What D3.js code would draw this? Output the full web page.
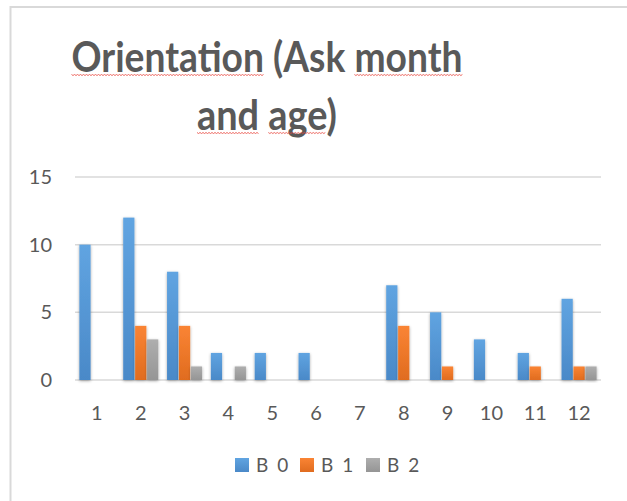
<!DOCTYPE html>
<html>
<head>
<meta charset="utf-8">
<script src="https://cdn.jsdelivr.net/npm/d3@7"></script>
<style>
  body { margin: 0; background: #fff; }
  text { font-family: Lato, "Open Sans", sans-serif; fill: #595959; }
</style>
</head>
<body>
<div id="chart"></div>
<script>
var months = ["1","2","3","4","5","6","7","8","9","10","11","12"];
var seriesNames = ["B 0", "B 1", "B 2"];
var b0 = [10, 12, 8, 2, 2, 2, 0, 7, 5, 3, 2, 6];
var b1 = [0, 4, 4, 0, 0, 0, 0, 4, 1, 0, 1, 1];
var b2 = [0, 3, 1, 1, 0, 0, 0, 0, 0, 0, 0, 1];
var yTicks = [0, 5, 10, 15];
var colors = ["#5b9bd5", "#ed7d31", "#a5a5a5"];
var darker = ["#4a89c8", "#e06c1f", "#959595"];

var W = 627, H = 501;
var margin = {top: 177, right: 26, bottom: 121, left: 75};
var width = W - margin.left - margin.right;
var height = H - margin.top - margin.bottom;

var svg = d3.select("#chart").append("svg")
  .attr("width", W).attr("height", H);

var defs = svg.append("defs");
colors.forEach(function(c, i) {
  var gr = defs.append("linearGradient").attr("id", "grad" + i)
    .attr("x1", 0).attr("y1", 0).attr("x2", 0).attr("y2", 1);
  gr.append("stop").attr("offset", "0%").attr("stop-color", d3.color(c).brighter(0.15));
  gr.append("stop").attr("offset", "100%").attr("stop-color", darker[i]);
});
var f = defs.append("filter").attr("id", "shadow")
  .attr("x", "-50%").attr("y", "-10%").attr("width", "200%").attr("height", "130%");
f.append("feDropShadow").attr("dx", 0).attr("dy", 1).attr("stdDeviation", 1.6)
  .attr("flood-color", "#000").attr("flood-opacity", 0.35);

// chart border
svg.append("rect")
  .attr("x", 10.5).attr("y", 7).attr("width", 700).attr("height", 600)
  .attr("fill", "none").attr("stroke", "#d9d9d9").attr("stroke-width", 2);

// title, squeezed to Calibri-like width, with spell-check squiggles
var titleLines = [
  {text: "Orientation (Ask month", y: 72, w: 391, marks: [[0, 11], [17, 22]]},
  {text: "and age)", y: 130, w: 140, marks: [[0, 3], [4, 7]]}
];
titleLines.forEach(function(l) {
  var t = svg.append("text")
    .attr("x", 267).attr("y", l.y)
    .attr("text-anchor", "middle")
    .style("font-size", "42px").style("font-weight", "bold")
    .text(l.text);
  var node = t.node();
  var full = node.getComputedTextLength();
  var k = l.w / full;
  var sub = [];
  l.marks.forEach(function(m) {
    sub.push([m[0] > 0 ? node.getSubStringLength(0, m[0]) : 0, node.getSubStringLength(0, m[1])]);
  });
  t.attr("textLength", l.w).attr("lengthAdjust", "spacingAndGlyphs");
  var xs = 267 - l.w / 2;
  sub.forEach(function(s) {
    var sx = xs + s[0] * k, ex = xs + s[1] * k;
    var pts = [];
    for (var x = sx, j = 0; x <= ex; x += 1.5, j++) {
      pts.push([x, l.y + 2.5 + (j % 2 ? 1 : 0)]);
    }
    svg.append("path")
      .attr("d", d3.line()(pts))
      .attr("fill", "none").attr("stroke", "#e8453c").attr("stroke-width", 0.8);
  });
});

var g = svg.append("g")
  .attr("transform", "translate(" + margin.left + "," + margin.top + ")");

var x0 = d3.scaleBand().domain(months).range([0, width]).paddingInner(0.2).paddingOuter(0.1);
var x1 = d3.scaleBand().domain(seriesNames).range([0, x0.bandwidth()]).paddingInner(0.06);
var y = d3.scaleLinear().domain([0, 15]).range([height, 0]);

// gridlines
g.selectAll(".grid").data(yTicks).enter().append("line")
  .attr("x1", 0).attr("x2", width)
  .attr("y1", function(d) { return y(d); }).attr("y2", function(d) { return y(d); })
  .attr("stroke", "#d9d9d9").attr("stroke-width", 1.5);

var yAxis = d3.axisLeft(y).tickValues(yTicks).tickSize(0).tickPadding(23);
g.append("g").call(yAxis)
  .call(function(s) { s.select(".domain").remove(); })
  .selectAll("text").style("font-size", "20px").attr("fill", "#595959");

var xAxis = d3.axisBottom(x0).tickSize(0).tickPadding(26);
g.append("g").attr("transform", "translate(0," + height + ")").call(xAxis)
  .call(function(s) { s.select(".domain").remove(); })
  .selectAll("text").style("font-size", "20px").attr("fill", "#595959");

var data = [b0, b1, b2];
data.forEach(function(vals, si) {
  var pairs = vals.map(function(v, i) { return {m: months[i], v: v}; })
    .filter(function(d) { return d.v > 0; });
  g.append("g").selectAll("rect").data(pairs).enter().append("rect")
    .attr("x", function(d) { return x0(d.m) + x1(seriesNames[si]); })
    .attr("y", function(d) { return y(d.v); })
    .attr("width", x1.bandwidth())
    .attr("height", function(d) { return y(0) - y(d.v); })
    .attr("fill", "url(#grad" + si + ")")
    .attr("filter", "url(#shadow)");
});

// legend
var legendX = [235, 300, 366];
var legend = svg.append("g");
seriesNames.forEach(function(n, i) {
  legend.append("rect").attr("x", legendX[i]).attr("y", 458)
    .attr("width", 14).attr("height", 14).attr("fill", "url(#grad" + i + ")");
  legend.append("text").attr("x", legendX[i] + 21).attr("y", 472)
    .style("font-size", "19px").style("letter-spacing", "2px").text(n);
});
</script>
</body>
</html>
